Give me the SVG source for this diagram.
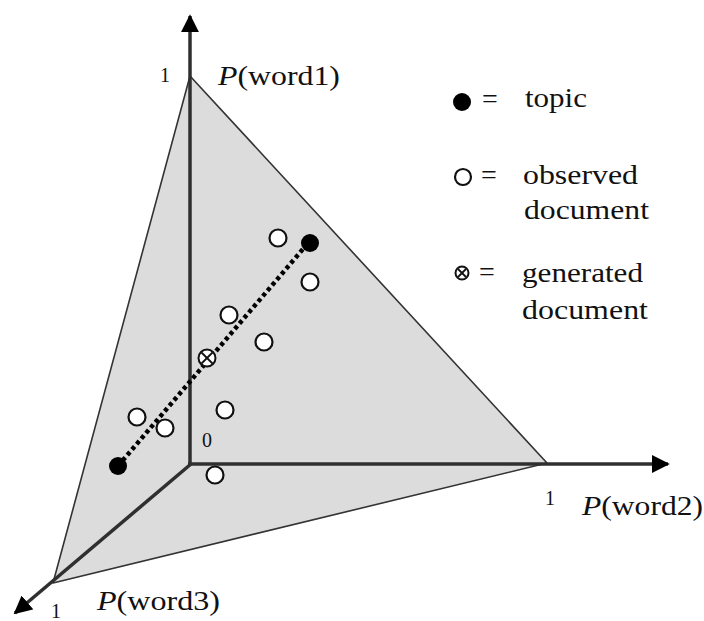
<svg xmlns="http://www.w3.org/2000/svg" width="704" height="621" viewBox="0 0 704 621">
  <style>
    .lbl { font-family: "Liberation Serif", "Times New Roman", serif; font-size: 28px; fill: #111; }
    .tick { font-family: "Liberation Serif", "Times New Roman", serif; font-size: 20px; fill: #111; }
    .axis { stroke: #2f2f2f; stroke-width: 3.5; fill: none; }
    .edge { stroke: #333; stroke-width: 1.6; fill: #dcdcdc; stroke-linejoin: round; }
    .obs { fill: #fff; stroke: #111; stroke-width: 2.2; }
    .topic { fill: #000; }
    .gen { fill: #fff; stroke: #111; stroke-width: 2; }
    .genx { stroke: #111; stroke-width: 1.8; }
  </style>
  <defs>
    <marker id="arrow" viewBox="0 0 10 10" refX="9" refY="5" markerWidth="5.2" markerHeight="5.2" orient="auto" markerUnits="strokeWidth">
      <path d="M0,0 L10,5 L0,10 Z" fill="#000"/>
    </marker>
  </defs>

  <rect width="704" height="621" fill="#fff"/>

  <!-- simplex (probability triangle) -->
  <g id="simplex">
    <polygon class="edge" points="190,76 547,463 53,583"/>
  </g>

  <!-- coordinate axes -->
  <g id="axes">
    <line class="axis" x1="190" y1="465" x2="190" y2="16" marker-end="url(#arrow)"/>
    <line class="axis" x1="188" y1="464" x2="668" y2="464" marker-end="url(#arrow)"/>
    <line class="axis" x1="191" y1="464" x2="15" y2="613" marker-end="url(#arrow)"/>
  </g>

  <!-- axis labels -->
  <g id="axis-labels">
    <text class="tick" x="165" y="82" text-anchor="middle">1</text>
    <text class="lbl" x="218" y="85" textLength="122" lengthAdjust="spacingAndGlyphs"><tspan font-style="italic">P</tspan>(word1)</text>
    <text class="tick" x="207" y="447" text-anchor="middle">0</text>
    <text class="tick" x="550" y="505" text-anchor="middle">1</text>
    <text class="lbl" x="582" y="515" textLength="121" lengthAdjust="spacingAndGlyphs"><tspan font-style="italic">P</tspan>(word2)</text>
    <text class="tick" x="56" y="618" text-anchor="middle">1</text>
    <text class="lbl" x="97" y="610" textLength="123" lengthAdjust="spacingAndGlyphs"><tspan font-style="italic">P</tspan>(word3)</text>
  </g>

  <!-- segment between the two topics -->
  <g id="connectors">
    <line x1="118" y1="466" x2="309" y2="242" stroke="#000" stroke-width="4.5" stroke-dasharray="4 3.2"/>
  </g>

  <!-- observed documents -->
  <g id="doc-1"><circle class="obs" cx="278" cy="238" r="8.5"/></g>
  <g id="doc-2"><circle class="obs" cx="310" cy="282" r="8.5"/></g>
  <g id="doc-3"><circle class="obs" cx="229" cy="315" r="8.5"/></g>
  <g id="doc-4"><circle class="obs" cx="264" cy="342" r="8.5"/></g>
  <g id="doc-5"><circle class="obs" cx="225" cy="410" r="8.5"/></g>
  <g id="doc-6"><circle class="obs" cx="137" cy="417" r="8.5"/></g>
  <g id="doc-7"><circle class="obs" cx="165" cy="428" r="8.5"/></g>
  <g id="doc-8"><circle class="obs" cx="215" cy="475" r="8.5"/></g>

  <!-- topics -->
  <g id="topic-a"><circle class="topic" cx="118" cy="466" r="9"/></g>
  <g id="topic-b"><circle class="topic" cx="310" cy="243" r="9"/></g>

  <!-- generated document -->
  <g id="generated">
    <circle class="gen" cx="207" cy="358" r="8.5"/>
    <line class="genx" x1="201.5" y1="352.5" x2="212.5" y2="363.5"/>
    <line class="genx" x1="212.5" y1="352.5" x2="201.5" y2="363.5"/>
  </g>

  <!-- legend -->
  <g id="legend">
    <circle class="topic" cx="462" cy="102" r="9"/>
    <text class="lbl" x="482" y="108">=</text>
    <text class="lbl" x="525" y="107" textLength="62" lengthAdjust="spacingAndGlyphs">topic</text>

    <circle class="obs" cx="463" cy="177" r="8"/>
    <text class="lbl" x="481" y="184">=</text>
    <text class="lbl" x="523" y="184" textLength="115" lengthAdjust="spacingAndGlyphs">observed</text>
    <text class="lbl" x="524" y="219" textLength="125" lengthAdjust="spacingAndGlyphs">document</text>

    <circle class="gen" cx="462" cy="273" r="6.5"/>
    <line class="genx" x1="458" y1="269" x2="466" y2="277"/>
    <line class="genx" x1="466" y1="269" x2="458" y2="277"/>
    <text class="lbl" x="479" y="281">=</text>
    <text class="lbl" x="522" y="282" textLength="121" lengthAdjust="spacingAndGlyphs">generated</text>
    <text class="lbl" x="522" y="319" textLength="126" lengthAdjust="spacingAndGlyphs">document</text>
  </g>
</svg>
